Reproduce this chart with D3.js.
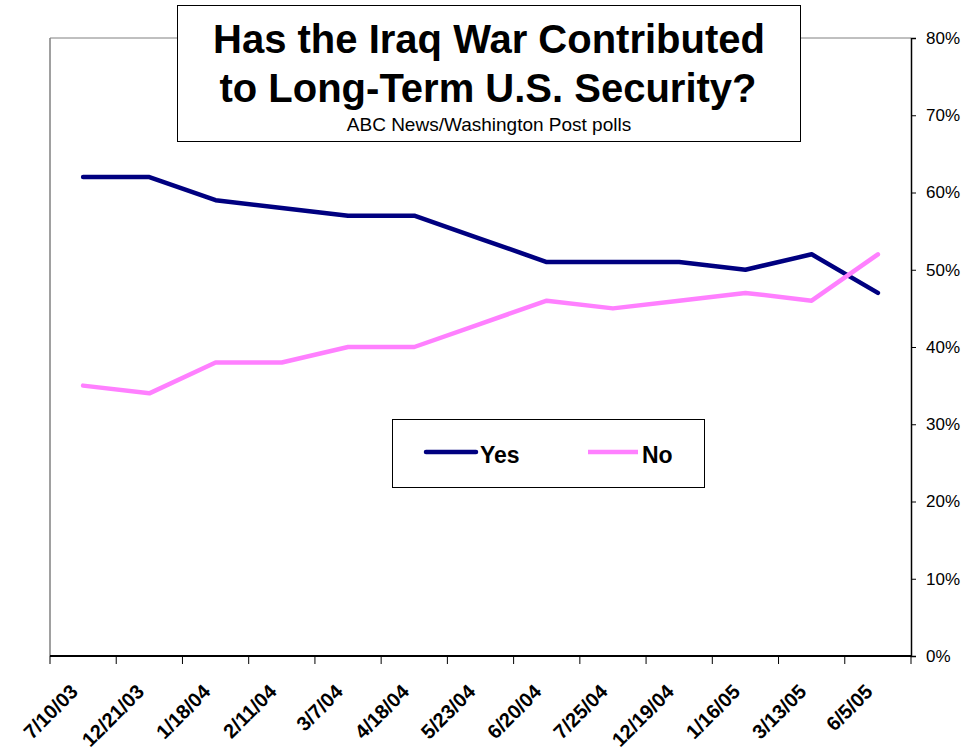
<!DOCTYPE html>
<html><head><meta charset="utf-8">
<script src="https://cdn.jsdelivr.net/npm/d3@7"></script>
<style>body{margin:0;background:#fff}svg{font-family:"Liberation Sans",Arial,sans-serif}</style>
</head><body><svg id="c" width="969" height="755"></svg>
<script>
const categories = ["7/10/03","12/21/03","1/18/04","2/11/04","3/7/04","4/18/04","5/23/04","6/20/04","7/25/04","12/19/04","1/16/05","3/13/05","6/5/05"];
const yesValues = [62,62,59,58,57,57,54,51,51,51,50,52,47];
const noValues  = [35,34,38,38,40,40,43,46,45,46,47,46,52];
const yTicks = [0,10,20,30,40,50,60,70,80];
const seriesNames = ["Yes","No"];
const seriesColors = ["#000080","#FF80FF"];

const svg = d3.select("#c");
const L=50,R=911,T=38,B=656;
const x = d3.scaleBand().domain(categories).range([L,R]);
const y = d3.scaleLinear().domain([0,80]).range([B,T]);

// plot frame (gray top/left)
svg.append("line").attr("x1",L).attr("x2",R).attr("y1",T).attr("y2",T).attr("stroke","#808080").attr("stroke-width",1);
svg.append("line").attr("x1",L).attr("x2",L).attr("y1",T).attr("y2",B).attr("stroke","#808080").attr("stroke-width",1.5);

// right axis
const ya = svg.append("g").attr("transform",`translate(${R},0)`)
  .call(d3.axisRight(y).tickValues(yTicks).tickSize(5).tickPadding(10).tickFormat(d=>d+"%"));
ya.select(".domain").attr("stroke","#000").attr("stroke-width",1.5);
ya.selectAll(".tick line").attr("stroke","#000");
ya.selectAll("text").attr("font-size",17).attr("fill","#000").attr("font-family","Liberation Sans, Arial, sans-serif");

// bottom axis with ticks at band boundaries
const xa = svg.append("g").attr("transform",`translate(0,${B})`);
xa.append("line").attr("x1",L).attr("x2",R).attr("stroke","#000").attr("stroke-width",2);
const bounds = categories.map(c=>x(c)).concat([x(categories[categories.length-1])+x.bandwidth()]);
xa.selectAll("line.t").data(bounds).join("line").attr("class","t")
  .attr("x1",d=>d).attr("x2",d=>d).attr("y1",0).attr("y2",8).attr("stroke","#000");
xa.selectAll("text").data(categories).join("text")
  .attr("transform",d=>`translate(${x(d)+x.bandwidth()/2-4},${37}) rotate(-45)`)
  .attr("text-anchor","end").attr("font-size",20).attr("font-weight","bold")
  .attr("fill","#000").text(d=>d);

// lines
const line = vals => d3.line().x((d,i)=>x(categories[i])+x.bandwidth()/2).y(d=>y(d))(vals);
[yesValues,noValues].forEach((vals,i)=>{
  svg.append("path").attr("d",line(vals)).attr("fill","none").attr("stroke",seriesColors[i])
    .attr("stroke-width",4.5).attr("stroke-linejoin","round").attr("stroke-linecap","round");
});

// title box
svg.append("rect").attr("x",177.5).attr("y",5.5).attr("width",623).attr("height",136).attr("fill","#fff").attr("stroke","#000").attr("stroke-width",1);
svg.append("text").attr("x",489).attr("y",53).attr("text-anchor","middle").attr("font-size",40).attr("font-weight","bold").text("Has the Iraq War Contributed");
svg.append("text").attr("x",488).attr("y",102).attr("text-anchor","middle").attr("font-size",40).attr("font-weight","bold").text("to Long-Term U.S. Security?");
svg.append("text").attr("x",489).attr("y",131).attr("text-anchor","middle").attr("font-size",19).text("ABC News/Washington Post polls");

// legend
svg.append("rect").attr("x",392.5).attr("y",419.5).attr("width",312).attr("height",68).attr("fill","#fff").attr("stroke","#000").attr("stroke-width",1);
const lx=[426,588];
seriesNames.forEach((n,i)=>{
  svg.append("line").attr("x1",lx[i]).attr("x2",lx[i]+50).attr("y1",452).attr("y2",452)
    .attr("stroke",seriesColors[i]).attr("stroke-width",4.5).attr("stroke-linecap",i==0?"round":"butt");
  svg.append("text").attr("x",lx[i]+54).attr("y",463).attr("font-size",23).attr("font-weight","bold").text(n);
});
</script></body></html>
